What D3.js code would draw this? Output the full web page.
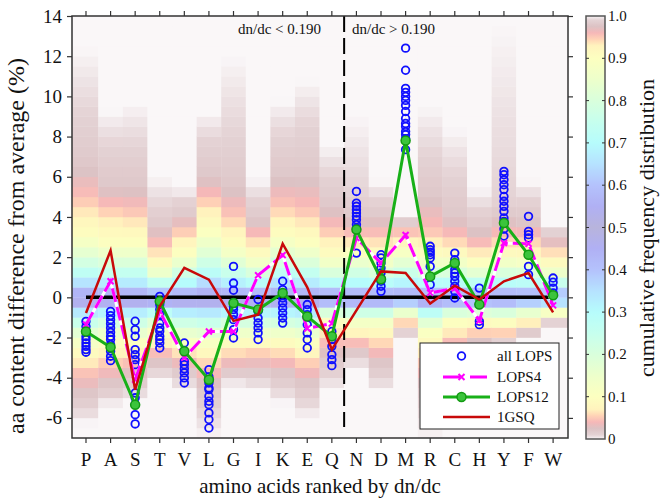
<!DOCTYPE html>
<html>
<head>
<meta charset="utf-8">
<script src="https://cdn.jsdelivr.net/npm/d3@7/dist/d3.min.js"></script>
<style>
  body { margin: 0; background: #fff; }
  svg text { font-family: "Liberation Serif", "Times New Roman", "DejaVu Serif", serif; fill: #111; }
</style>
</head>
<body>
<div id="chart"></div>
<script>
var width = 663, height = 498;
var serif = "'Liberation Serif', 'Times New Roman', 'DejaVu Serif', serif";

// amino acids ranked by dn/dc
var categories = ["P", "A", "S", "T", "V", "L", "G", "I", "K", "E", "Q", "N", "D", "M", "R", "C", "H", "Y", "F", "W"];

// individual LOPS proteins (one list per amino acid)
var allLOPS = [
  [-1.2, -1.45, -1.7, -1.95, -2.1, -2.27, -2.44, -2.6, -2.73],
  [-0.7, -0.91, -1.11, -1.31, -1.52, -1.74, -1.94, -2.1, -2.35, -2.68, -2.93, -3.15],
  [-1.19, -1.61, -1.94, -2.6, -2.85, -3.1, -3.35, -4.76, -5.0, -5.34, -5.84, -6.3],
  [0.05, -0.36, -0.61, -0.86, -1.28, -1.52, -1.69, -1.94, -2.1, -2.27, -2.52],
  [-2.27, -3.18, -3.35, -3.56, -3.76, -4.01, -4.26],
  [-3.6, -3.96, -4.26, -4.51, -4.59, -4.92, -5.17, -5.34, -5.75, -6.08, -6.5],
  [1.54, 0.71, 0.35, -0.28, -0.45, -0.61, -0.86, -1.11, -1.61, -2.02],
  [-0.11, -0.69, -1.03, -1.28, -1.52, -1.77, -2.1],
  [0.8, 0.38, -0.03, -0.28, -0.53, -0.78, -1.03, -1.28],
  [-0.36, -0.61, -0.86, -1.36, -1.77, -2.1, -2.52],
  [-1.7, -2.1, -2.44, -2.85, -3.1, -3.4],
  [5.27, 4.69, 4.53, 4.36, 4.2, 4.03, 3.86, 3.62, 3.45, 2.2],
  [2.12, 1.96, 1.71, 1.46, 1.21, 0.96, 0.8, 0.55, 0.3],
  [12.4, 11.3, 10.4, 10.2, 10.0, 9.8, 9.55, 9.25, 8.9, 8.65, 8.5, 8.25, 8.1, 7.9, 7.35],
  [2.54, 2.37, 2.24, 2.12, 1.96, 1.54, 0.63],
  [2.2, 1.87, 1.63, 1.38, 1.21, 1.04, 0.8, 0.55, 0.3, -0.03],
  [0.46, -0.36, -1.19, -1.36],
  [6.27, 6.1, 5.85, 5.6, 5.36, 5.02, 4.78, 4.53, 4.28, 3.95, 3.78, 3.4, 3.05],
  [4.03, 3.28, 3.12, 2.95, 1.54, 1.13],
  [0.96, 0.75, 0.46, 0.22]
];

var lops4  = [-1.35, 0.8, -4.1, -0.7, -3.0, -1.7, -1.7, 1.1, 2.1, -1.55, -1.3, 2.95, 1.7, 3.1, 0.22, 0.45, -1.15, 2.7, 2.67, -0.4];
var lops12 = [-1.7, -2.48, -5.35, -0.2, -2.68, -4.1, -0.28, -0.61, 0.22, -0.95, -1.94, 3.37, 0.9, 7.8, 1.04, 1.71, -0.36, 3.7, 2.12, 0.1];
var gsq    = [-0.78, 2.33, -4.6, -0.45, 1.47, 0.88, -1.17, -0.86, 2.67, 0.5, -2.6, -0.65, 1.29, 1.21, -0.31, 0.58, -0.11, 0.8, 1.21, -0.75];

// background: cumulative frequency distribution, as quantiles per amino acid
var cdfLevels = [0, 0.01, 0.02, 0.05, 0.1, 0.2, 0.3, 0.5, 0.7, 0.8, 0.9, 0.95, 0.98, 0.99, 1];
var quantiles = [
  [-6.3, -5.5, -4.8, -3.6, -2.5, -1.5, -0.9, -0.1, 1.0, 1.9, 3.0, 4.8, 6.5, 9.0, 12.4],
  [-5.4, -4.9, -4.3, -3.3, -2.1, -1.3, -0.8, -0.1, 0.9, 1.7, 2.7, 4.4, 5.5, 7.5, 9.3],
  [-5.1, -4.6, -4.0, -3.1, -2.3, -1.4, -0.85, -0.1, 0.9, 1.7, 2.7, 4.2, 5.5, 7.5, 9.7],
  [-4.0, -3.7, -3.3, -2.6, -1.8, -1.1, -0.65, -0.1, 0.55, 1.0, 1.5, 2.5, 3.5, 4.5, 6.0],
  [-4.6, -4.1, -3.6, -2.9, -2.3, -1.4, -0.85, -0.1, 0.75, 1.4, 2.2, 3.3, 4.0, 4.8, 5.5],
  [-7.0, -5.5, -4.5, -3.4, -2.4, -1.5, -0.9, -0.1, 1.1, 2.0, 3.3, 4.85, 6.0, 7.8, 9.2],
  [-4.4, -4.0, -3.6, -2.9, -2.1, -1.3, -0.8, -0.1, 0.85, 1.55, 2.5, 4.0, 5.5, 8.0, 12.0],
  [-4.6, -4.1, -3.6, -2.8, -2.1, -1.3, -0.8, -0.1, 0.7, 1.25, 2.0, 3.0, 3.8, 4.8, 5.9],
  [-5.3, -4.5, -3.8, -2.9, -2.1, -1.3, -0.8, -0.1, 1.0, 1.9, 3.0, 4.5, 6.0, 8.0, 9.8],
  [-6.0, -5.1, -4.3, -3.3, -2.3, -1.4, -0.85, -0.1, 0.9, 1.7, 2.7, 4.2, 6.0, 8.5, 10.8],
  [-4.7, -3.8, -3.0, -2.0, -1.2, -0.75, -0.45, -0.1, 0.7, 1.25, 2.0, 3.3, 4.5, 6.0, 7.6],
  [-3.5, -3.1, -2.7, -2.1, -1.4, -0.85, -0.5, -0.1, 0.75, 1.4, 2.2, 3.0, 4.0, 5.0, 9.1],
  [-4.7, -4.0, -3.3, -2.4, -1.4, -0.85, -0.5, -0.1, 0.7, 1.25, 2.0, 3.0, 4.0, 4.8, 5.8],
  [-1.9, -1.75, -1.6, -1.3, -0.95, -0.6, -0.35, -0.1, 0.8, 1.5, 2.4, 3.2, 3.6, 3.9, 4.1],
  [-7.0, -5.5, -4.5, -3.2, -1.8, -1.1, -0.65, -0.1, 0.7, 1.25, 2.0, 3.2, 5.0, 7.0, 9.5],
  [-4.5, -3.7, -3.0, -2.0, -1.2, -0.75, -0.45, -0.1, 0.7, 1.25, 2.0, 2.9, 4.0, 6.0, 8.4],
  [-2.6, -2.45, -2.3, -1.8, -1.1, -0.7, -0.4, -0.1, 0.6, 1.05, 1.7, 2.5, 3.4, 4.3, 5.4],
  [-2.4, -2.25, -2.1, -1.8, -1.2, -0.75, -0.45, -0.1, 0.7, 1.25, 2.0, 2.9, 4.0, 4.8, 13.7],
  [-2.0, -1.85, -1.7, -1.4, -1.0, -0.6, -0.35, -0.1, 0.65, 1.2, 1.9, 2.9, 3.8, 4.8, 5.8],
  [-1.3, -1.25, -1.2, -1.0, -0.8, -0.5, -0.3, -0.1, 0.5, 0.95, 1.5, 2.45, 2.9, 3.3, 3.6]
];

var yTicks = [-6, -4, -2, 0, 2, 4, 6, 8, 10, 12, 14];
var cbTicks = [0, 0.1, 0.2, 0.3, 0.4, 0.5, 0.6, 0.7, 0.8, 0.9, 1.0];

// symmetric pale colormap, by distance from the median
var cmap = d3.scaleLinear()
  .domain([0, 0.05, 0.1, 0.15, 0.2, 0.25, 0.3, 0.35, 0.4, 0.43, 0.445, 0.46, 0.475, 0.49, 0.495, 0.5])
  .range(["#b8b4dc", "#b0b0f4", "#b4c2fc", "#b6e2ff", "#b6fcfc", "#c6ffee", "#d9ffdc", "#edffcb",
          "#fcffc0", "#fff3bd", "#ffd3b6", "#f6b8b8", "#dcc2c4", "#e4d2d4", "#ede2e4", "#faf7f8"])
  .interpolate(d3.interpolateRgb);
function colorOf(c) { return cmap(Math.abs(c - 0.5)); }

var pLeft = 72, pRight = 568, pTop = 16, pBottom = 438;

var x = d3.scaleBand().domain(categories).range([73.7, 565.4]).padding(0);
var cx = function (c) { return x(c) + x.bandwidth() / 2; };
var y = d3.scaleLinear().domain([-7, 14]).range([pBottom, pTop]);

var svg = d3.select("#chart").append("svg")
  .attr("width", width)
  .attr("height", height)
  .attr("font-family", serif);

var defs = svg.append("defs");
defs.append("clipPath").attr("id", "plotclip")
  .append("rect").attr("x", pLeft).attr("y", pTop).attr("width", pRight - pLeft).attr("height", pBottom - pTop);

svg.append("rect")
  .attr("x", pLeft).attr("y", pTop).attr("width", pRight - pLeft).attr("height", pBottom - pTop)
  .attr("fill", colorOf(1));

// heatmap columns
var heat = svg.append("g").attr("clip-path", "url(#plotclip)");
var bins = d3.range(-7, 14, 0.5);
categories.forEach(function (cat, i) {
  var cdf = d3.scaleLinear().domain(quantiles[i]).range(cdfLevels).clamp(true);
  var x0 = i == 0 ? pLeft : x(cat);
  var x1 = i == categories.length - 1 ? pRight : x(cat) + x.bandwidth();
  heat.selectAll(null)
    .data(bins)
    .enter().append("rect")
    .attr("x", x0)
    .attr("width", x1 - x0 + 0.3)
    .attr("y", function (b) { return y(b + 0.5); })
    .attr("height", function (b) { return y(b) - y(b + 0.5) + 0.3; })
    .attr("fill", function (b) { return colorOf(cdf(b + 0.25)); });
});

// average line
svg.append("line")
  .attr("x1", cx("P")).attr("x2", cx("W"))
  .attr("y1", y(0)).attr("y2", y(0))
  .attr("stroke", "#000").attr("stroke-width", 3.5);

// dn/dc split
var splitX = (cx("Q") + cx("N")) / 2;
svg.append("line")
  .attr("x1", splitX).attr("x2", splitX)
  .attr("y1", pTop).attr("y2", 427)
  .attr("stroke", "#000").attr("stroke-width", 2)
  .attr("stroke-dasharray", "16,6");

svg.append("text").attr("x", 238).attr("y", 34).attr("font-size", 15).text("dn/dc < 0.190");
svg.append("text").attr("x", 352).attr("y", 34).attr("font-size", 15).text("dn/dc > 0.190");

// all LOPS circles
var pts = [];
categories.forEach(function (cat, i) {
  allLOPS[i].forEach(function (v) { pts.push({ c: cat, v: v }); });
});
svg.append("g").selectAll("circle")
  .data(pts)
  .enter().append("circle")
  .attr("cx", function (d) { return cx(d.c); })
  .attr("cy", function (d) { return y(d.v); })
  .attr("r", 3.8)
  .attr("fill", "none")
  .attr("stroke", "#1010ff")
  .attr("stroke-width", 1.8);

var line = d3.line()
  .x(function (d, i) { return cx(categories[i]); })
  .y(function (d) { return y(d); });

// LOPS4
svg.append("path").attr("d", line(lops4))
  .attr("fill", "none").attr("stroke", "#fff").attr("stroke-width", 3);
svg.append("path").attr("d", line(lops4))
  .attr("fill", "none").attr("stroke", "#ff00ff").attr("stroke-width", 3)
  .attr("stroke-dasharray", "14,5");
function xMark(sel, s) {
  sel.attr("d", "M" + (-s) + "," + (-s) + "L" + s + "," + s + "M" + (-s) + "," + s + "L" + s + "," + (-s));
}
svg.append("g").selectAll("path")
  .data(lops4)
  .enter().append("path")
  .attr("transform", function (d, i) { return "translate(" + cx(categories[i]) + "," + y(d) + ")"; })
  .call(xMark, 3)
  .attr("stroke", "#ff00ff").attr("stroke-width", 2).attr("fill", "none");

// LOPS12
svg.append("path").attr("d", line(lops12))
  .attr("fill", "none").attr("stroke", "#18b018").attr("stroke-width", 3);
svg.append("g").selectAll("circle")
  .data(lops12)
  .enter().append("circle")
  .attr("cx", function (d, i) { return cx(categories[i]); })
  .attr("cy", function (d) { return y(d); })
  .attr("r", 4.5)
  .attr("fill", "#3cc43c").attr("stroke", "#129a12").attr("stroke-width", 1.5);

// 1GSQ
svg.append("path").attr("d", line(gsq))
  .attr("fill", "none").attr("stroke", "#c80a0a").attr("stroke-width", 2.5);

// axes
var axisFont = function (g) {
  g.attr("font-family", serif);
  g.select(".domain").remove();
  g.selectAll(".tick line").attr("stroke", "#333").attr("stroke-width", 1.2);
  g.selectAll("text").attr("fill", "#111");
};
svg.append("g").attr("transform", "translate(0," + pBottom + ")")
  .call(d3.axisBottom(x).tickSize(5).tickPadding(10))
  .call(axisFont)
  .selectAll("text").attr("font-size", 19);
svg.append("g").attr("transform", "translate(0," + pTop + ")")
  .call(d3.axisTop(x).tickSize(5).tickFormat(""))
  .call(axisFont);
svg.append("g").attr("transform", "translate(" + pLeft + ",0)")
  .call(d3.axisLeft(y).tickValues(yTicks).tickSize(5).tickPadding(5).tickFormat(function (d) { return String(d); }))
  .call(axisFont)
  .selectAll("text").attr("font-size", 19);
svg.append("g").attr("transform", "translate(" + pRight + ",0)")
  .call(d3.axisRight(y).tickValues(yTicks).tickSize(5).tickFormat(""))
  .call(axisFont);

svg.append("rect")
  .attr("x", pLeft).attr("y", pTop).attr("width", pRight - pLeft).attr("height", pBottom - pTop)
  .attr("fill", "none").attr("stroke", "#333").attr("stroke-width", 1.5);

svg.append("text")
  .attr("x", (pLeft + pRight) / 2).attr("y", 493)
  .attr("text-anchor", "middle").attr("font-size", 21)
  .text("amino acids ranked by dn/dc");
svg.append("text")
  .attr("transform", "translate(24,246) rotate(-90)")
  .attr("text-anchor", "middle").attr("font-size", 24)
  .text("aa content difference from average (%)");

// legend
var lg = svg.append("g");
lg.append("rect").attr("x", 420).attr("y", 343).attr("width", 139).attr("height", 86)
  .attr("fill", "#fff").attr("stroke", "#222").attr("stroke-width", 1);
var rows = [356, 377, 397, 417];
var names = ["all LOPS", "LOPS4", "LOPS12", "1GSQ"];
lg.append("circle").attr("cx", 461.5).attr("cy", rows[0]).attr("r", 3.8)
  .attr("fill", "none").attr("stroke", "#1010ff").attr("stroke-width", 1.8);
lg.append("line").attr("x1", 443).attr("x2", 490).attr("y1", rows[1]).attr("y2", rows[1])
  .attr("stroke", "#ff00ff").attr("stroke-width", 3).attr("stroke-dasharray", "17,10");
lg.append("path").attr("transform", "translate(461.5," + rows[1] + ")").call(xMark, 3)
  .attr("stroke", "#ff00ff").attr("stroke-width", 2);
lg.append("line").attr("x1", 443).attr("x2", 490).attr("y1", rows[2]).attr("y2", rows[2])
  .attr("stroke", "#18b018").attr("stroke-width", 3);
lg.append("circle").attr("cx", 461.5).attr("cy", rows[2]).attr("r", 4.5)
  .attr("fill", "#3cc43c").attr("stroke", "#129a12").attr("stroke-width", 1.5);
lg.append("line").attr("x1", 443).attr("x2", 490).attr("y1", rows[3]).attr("y2", rows[3])
  .attr("stroke", "#c80a0a").attr("stroke-width", 2.5);
lg.selectAll("text.lab").data(names).enter().append("text")
  .attr("x", 497).attr("y", function (d, i) { return rows[i] + 5; })
  .attr("font-size", 15).text(function (d) { return d; });

// colorbar
var cb = d3.scaleLinear().domain([0, 1]).range([439, 16]);
var grad = defs.append("linearGradient").attr("id", "cbgrad")
  .attr("x1", 0).attr("y1", 1).attr("x2", 0).attr("y2", 0);
grad.selectAll("stop").data(d3.range(0, 1.001, 0.005)).enter().append("stop")
  .attr("offset", function (d) { return d; })
  .attr("stop-color", function (d) { return colorOf(d); });
svg.append("rect").attr("x", 586).attr("y", 16).attr("width", 19).attr("height", 423)
  .attr("fill", "url(#cbgrad)").attr("stroke", "#555").attr("stroke-width", 1.5);
var cbt = svg.append("g");
cbt.selectAll("line.l").data(cbTicks.slice(1, -1)).enter().append("line")
  .attr("x1", 586).attr("x2", 589).attr("y1", cb).attr("y2", cb)
  .attr("stroke", "#333").attr("stroke-width", 1);
cbt.selectAll("line.r").data(cbTicks.slice(1, -1)).enter().append("line")
  .attr("x1", 602).attr("x2", 605).attr("y1", cb).attr("y2", cb)
  .attr("stroke", "#333").attr("stroke-width", 1);
cbt.selectAll("text").data(cbTicks).enter().append("text")
  .attr("x", 608).attr("y", function (d) { return cb(d) + 5; })
  .attr("font-size", 15)
  .text(function (d) { return d == 0 ? "0" : d.toFixed(1); });
svg.append("text")
  .attr("transform", "translate(654,228) rotate(-90)")
  .attr("text-anchor", "middle").attr("font-size", 22)
  .text("cumulative frequency distribution");
</script>
</body>
</html>
